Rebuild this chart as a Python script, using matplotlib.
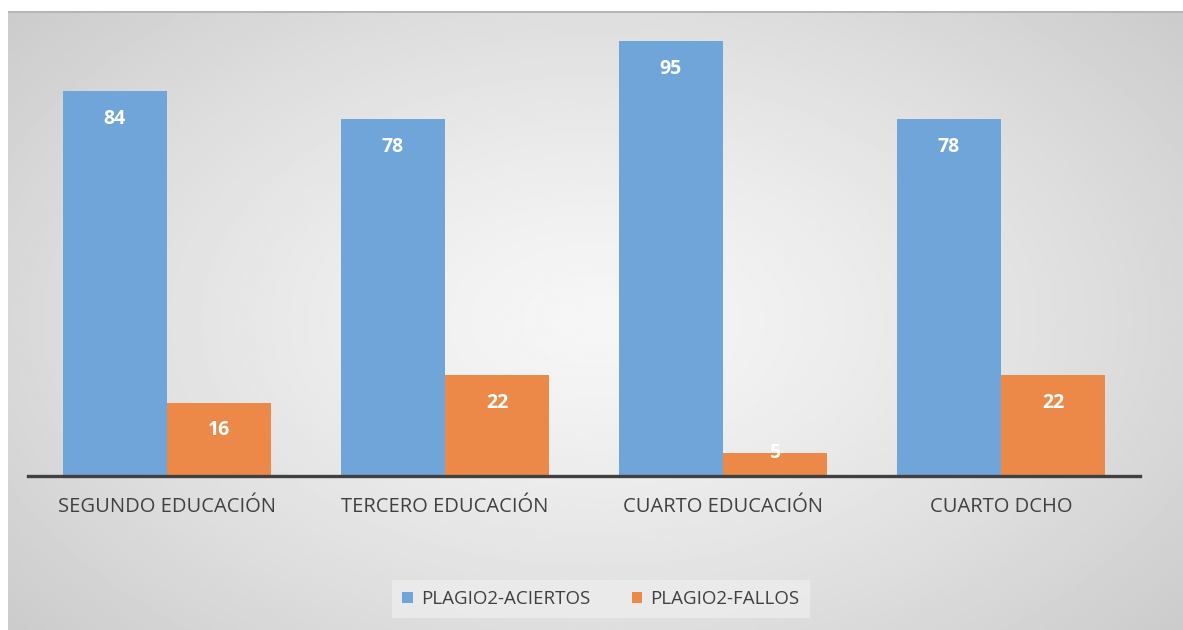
import matplotlib.pyplot as plt
import numpy as np

categories = ['SEGUNDO EDUCACIÓN', 'TERCERO EDUCACIÓN', 'CUARTO EDUCACIÓN', 'CUARTO DCHO']
aciertos = [84, 78, 95, 78]
fallos = [16, 22, 5, 22]
series_names = ['PLAGIO2-ACIERTOS', 'PLAGIO2-FALLOS']

W, H = 1183, 630
fig = plt.figure(figsize=(W / 100, H / 100), dpi=100)
fig.patch.set_facecolor('white')

# radial gradient panel behind the chart
bg = fig.add_axes([8 / W, 0, (W - 8) / W, (H - 11) / H])
yy, xx = np.mgrid[0:1:300j, 0:1:600j]
r = np.sqrt(((xx - 0.5) / 0.72) ** 2 + ((yy - 0.5) / 0.85) ** 2)
shade = 0.965 - 0.19 * np.clip(r, 0, 1) ** 1.3
bg.imshow(shade, cmap='gray', vmin=0, vmax=1, aspect='auto', extent=[0, 1, 0, 1], origin='lower')
bg.axhline(1, color='#b4b4b4', lw=2)
bg.set_axis_off()

ax = fig.add_axes([28 / W, 154 / H, (1140 - 28) / W, (476 - 18) / H])
ax.set_facecolor('none')
x = np.arange(len(categories))
w = 0.375
blue, orange = '#6FA5D8', '#ED8948'
b1 = ax.bar(x - w / 2, aciertos, w, color=blue, label=series_names[0])
b2 = ax.bar(x + w / 2, fallos, w, color=orange, label=series_names[1])

ax.set_xlim(-0.5, len(categories) - 0.5)
ax.set_ylim(0, 100)
for s in ['top', 'right', 'left']:
    ax.spines[s].set_visible(False)
ax.spines['bottom'].set_color('#404040')
ax.spines['bottom'].set_linewidth(2.4)
ax.set_yticks([])
ax.set_xticks(x)
ax.set_xticklabels(categories, fontsize=14.5, color='#404040', family='Open Sans')
ax.tick_params(axis='x', length=0, pad=15)

for bars in (b1, b2):
    for b in bars:
        v = b.get_height()
        off = -20 if v > 10 else 0
        ax.annotate(f'{v:g}', (b.get_x() + b.get_width() / 2, v), xytext=(0, off),
                    textcoords='offset points', ha='center', va='center',
                    color='white', fontsize=14, fontweight='bold', family='Open Sans')

leg = fig.legend(handles=[b1, b2], loc='center', bbox_to_anchor=(601 / W, 1 - 599 / H),
                 ncol=2, frameon=True, fancybox=False, fontsize=13.5, handlelength=0.55,
                 handleheight=0.55, handletextpad=0.45, columnspacing=2.2, borderpad=0.55,
                 borderaxespad=0)
leg.get_frame().set_facecolor('#ececec')
leg.get_frame().set_edgecolor('none')
leg.get_frame().set_alpha(0.85)
for t in leg.get_texts():
    t.set_color('#404040')
    t.set_family('Open Sans')

plt.savefig('out.png', dpi=100)
plt.close()
